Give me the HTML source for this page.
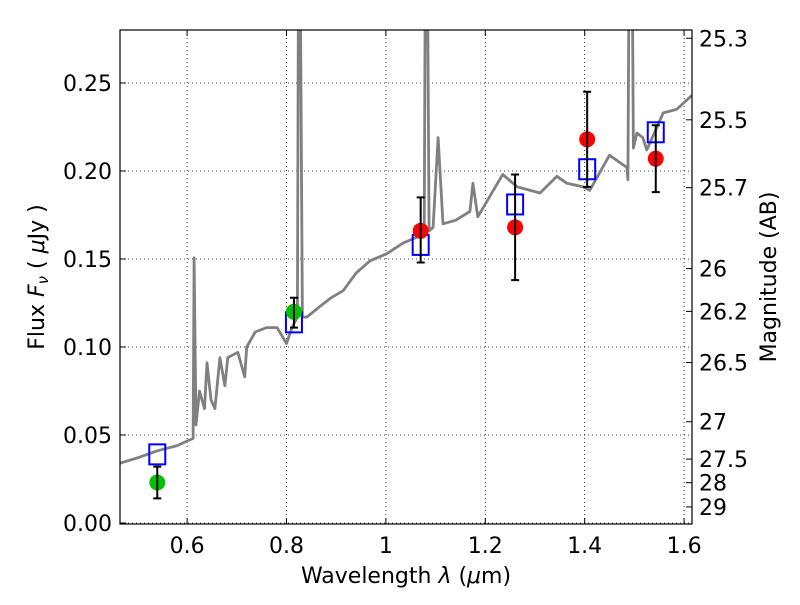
<!DOCTYPE html>
<html><head><meta charset="utf-8"><style>
body{margin:0;background:#fff;width:800px;height:600px;overflow:hidden}
svg text{font-family:"DejaVu Sans","Liberation Sans",sans-serif;fill:#000}
</style></head><body>
<svg id="chart" width="800" height="600">
<defs><clipPath id="clip"><rect x="120" y="30" width="572" height="494"/></clipPath></defs>
<rect x="0" y="0" width="800" height="600" fill="#fff"/>
<g id="grid"></g>
<g id="plot" clip-path="url(#clip)"></g>
<rect x="120" y="30" width="572" height="494" fill="none" stroke="#000" stroke-width="1.2"/>
<g id="axes"></g>
<text x="406" y="583" font-size="22" text-anchor="middle">Wavelength  <tspan font-style="italic">λ</tspan> (<tspan font-style="italic">μ</tspan>m)</text>
<text transform="translate(44,277) rotate(-90)" font-size="22" text-anchor="middle">Flux  <tspan font-style="italic">F<tspan font-size="15" dy="4">ν</tspan></tspan><tspan dy="-4">  ( </tspan><tspan font-style="italic">μ</tspan>Jy )</text>
<text transform="translate(776,277) rotate(-90)" font-size="22" text-anchor="middle">Magnitude (AB)</text>
</svg>
<script>
const specLam=[0.465,0.50,0.54,0.58,0.60,0.612,0.614,0.618,0.625,0.635,0.64,0.648,0.656,0.666,0.676,0.682,0.702,0.716,0.72,0.737,0.76,0.781,0.80,0.811,0.822,0.824,0.828,0.832,0.841,0.867,0.89,0.914,0.94,0.968,1.002,1.034,1.063,1.077,1.079,1.084,1.087,1.095,1.105,1.115,1.14,1.169,1.175,1.185,1.21,1.235,1.264,1.31,1.344,1.364,1.396,1.41,1.45,1.485,1.487,1.489,1.496,1.498,1.505,1.517,1.525,1.558,1.585,1.616];
const specFlux=[0.034,0.037,0.041,0.044,0.0466,0.048,0.1506,0.0557,0.075,0.065,0.091,0.07,0.065,0.094,0.078,0.094,0.097,0.083,0.1,0.1085,0.111,0.111,0.102,0.111,0.117,0.3,0.3,0.117,0.117,0.123,0.128,0.132,0.142,0.149,0.153,0.159,0.1625,0.165,0.3,0.3,0.166,0.168,0.219,0.170,0.172,0.177,0.193,0.174,0.186,0.198,0.191,0.1875,0.197,0.193,0.191,0.189,0.209,0.202,0.195,0.3,0.3,0.213,0.2216,0.219,0.212,0.233,0.235,0.243];
const sqLam=[0.54,0.815,1.07,1.26,1.405,1.543];
const sqFlux=[0.039,0.114,0.158,0.181,0.201,0.222];
const redLam=[1.07,1.26,1.405,1.543];
const redFlux=[0.166,0.168,0.218,0.207];
const redLo=[0.148,0.138,0.191,0.188];
const redHi=[0.185,0.198,0.245,0.226];
const greenLam=[0.54,0.815];
const greenFlux=[0.023,0.120];
const greenLo=[0.014,0.111];
const greenHi=[0.032,0.128];
const xTicks=[0.6,0.8,1.0,1.2,1.4,1.6];
const xTickLabels=["0.6","0.8","1","1.2","1.4","1.6"];
const yTicks=[0,0.05,0.10,0.15,0.20,0.25];
const yTickLabels=["0.00","0.05","0.10","0.15","0.20","0.25"];
const magTicks=[25.3,25.5,25.7,26,26.2,26.5,27,27.5,28,29];
const magLabels=["25.3","25.5","25.7","26","26.2","26.5","27","27.5","28","29"];

const X=l=>120+(l-0.465)*497;
const Y=f=>523-f*1760;
const NS="http://www.w3.org/2000/svg";
function mk(tag,attrs,parent){const e=document.createElementNS(NS,tag);for(const k in attrs)e.setAttribute(k,attrs[k]);parent.appendChild(e);return e;}
const grid=document.getElementById('grid'),plot=document.getElementById('plot'),axes=document.getElementById('axes');

xTicks.forEach((t,i)=>{
  const g=mk('line',{x1:X(t),x2:X(t),y1:30,y2:524,stroke:'#000','stroke-width':0.8,'stroke-dasharray':'1,3'},grid);
  
  
  mk('line',{x1:X(t),x2:X(t),y1:524,y2:518,stroke:'#000'},axes);
  mk('line',{x1:X(t),x2:X(t),y1:30,y2:36,stroke:'#000'},axes);
  const tx=mk('text',{x:X(t),y:553,'font-size':22,'text-anchor':'middle'},axes);
  tx.textContent=xTickLabels[i];
  
  
});
yTicks.forEach((t,i)=>{
  const g=mk('line',{x1:120,x2:692,y1:Y(t),y2:Y(t),stroke:'#000','stroke-width':0.8,'stroke-dasharray':'1,3'},grid);
  
  
  mk('line',{x1:120,x2:126,y1:Y(t),y2:Y(t),stroke:'#000'},axes);
  const tx=mk('text',{x:112,y:Y(t)+8,'font-size':22,'text-anchor':'end'},axes);
  tx.textContent=yTickLabels[i];
  
  
});
magTicks.forEach((m,i)=>{
  const f=Math.pow(10,(23.9-m)/2.5);
  mk('line',{x1:692,x2:686,y1:Y(f),y2:Y(f),stroke:'#000'},axes);
  const tx=mk('text',{x:699,y:Y(f)+8,'font-size':22},axes);
  tx.textContent=magLabels[i];
  
  
});
const pts=specLam.map((l,i)=>X(l).toFixed(1)+','+Y(specFlux[i]).toFixed(1)).join(' ');
const sp=mk('polyline',{points:pts,fill:'none',stroke:'#808080','stroke-width':2.8,'stroke-linejoin':'round'},plot);


sqLam.forEach((l,i)=>{
  const r=mk('rect',{x:X(l)-8,y:Y(sqFlux[i])-10,width:16,height:20,fill:'none',stroke:'#0000ff','stroke-width':2},plot);
  
  
});
function pointsWithErr(lam,flux,lo,hi,color,name){
  lam.forEach((l,i)=>{
    const c=mk('circle',{cx:X(l),cy:Y(flux[i]),r:8,fill:color},plot);
    
    
    const e=mk('path',{d:`M${X(l)},${Y(lo[i])}V${Y(hi[i])}M${X(l)-4},${Y(lo[i])}h8M${X(l)-4},${Y(hi[i])}h8`,stroke:'#000','stroke-width':2,fill:'none'},plot);
    
    
  });
}
pointsWithErr(greenLam,greenFlux,greenLo,greenHi,'#00c000','green-observed-point');
pointsWithErr(redLam,redFlux,redLo,redHi,'#ff0000','red-observed-point');
</script>
</body></html>
